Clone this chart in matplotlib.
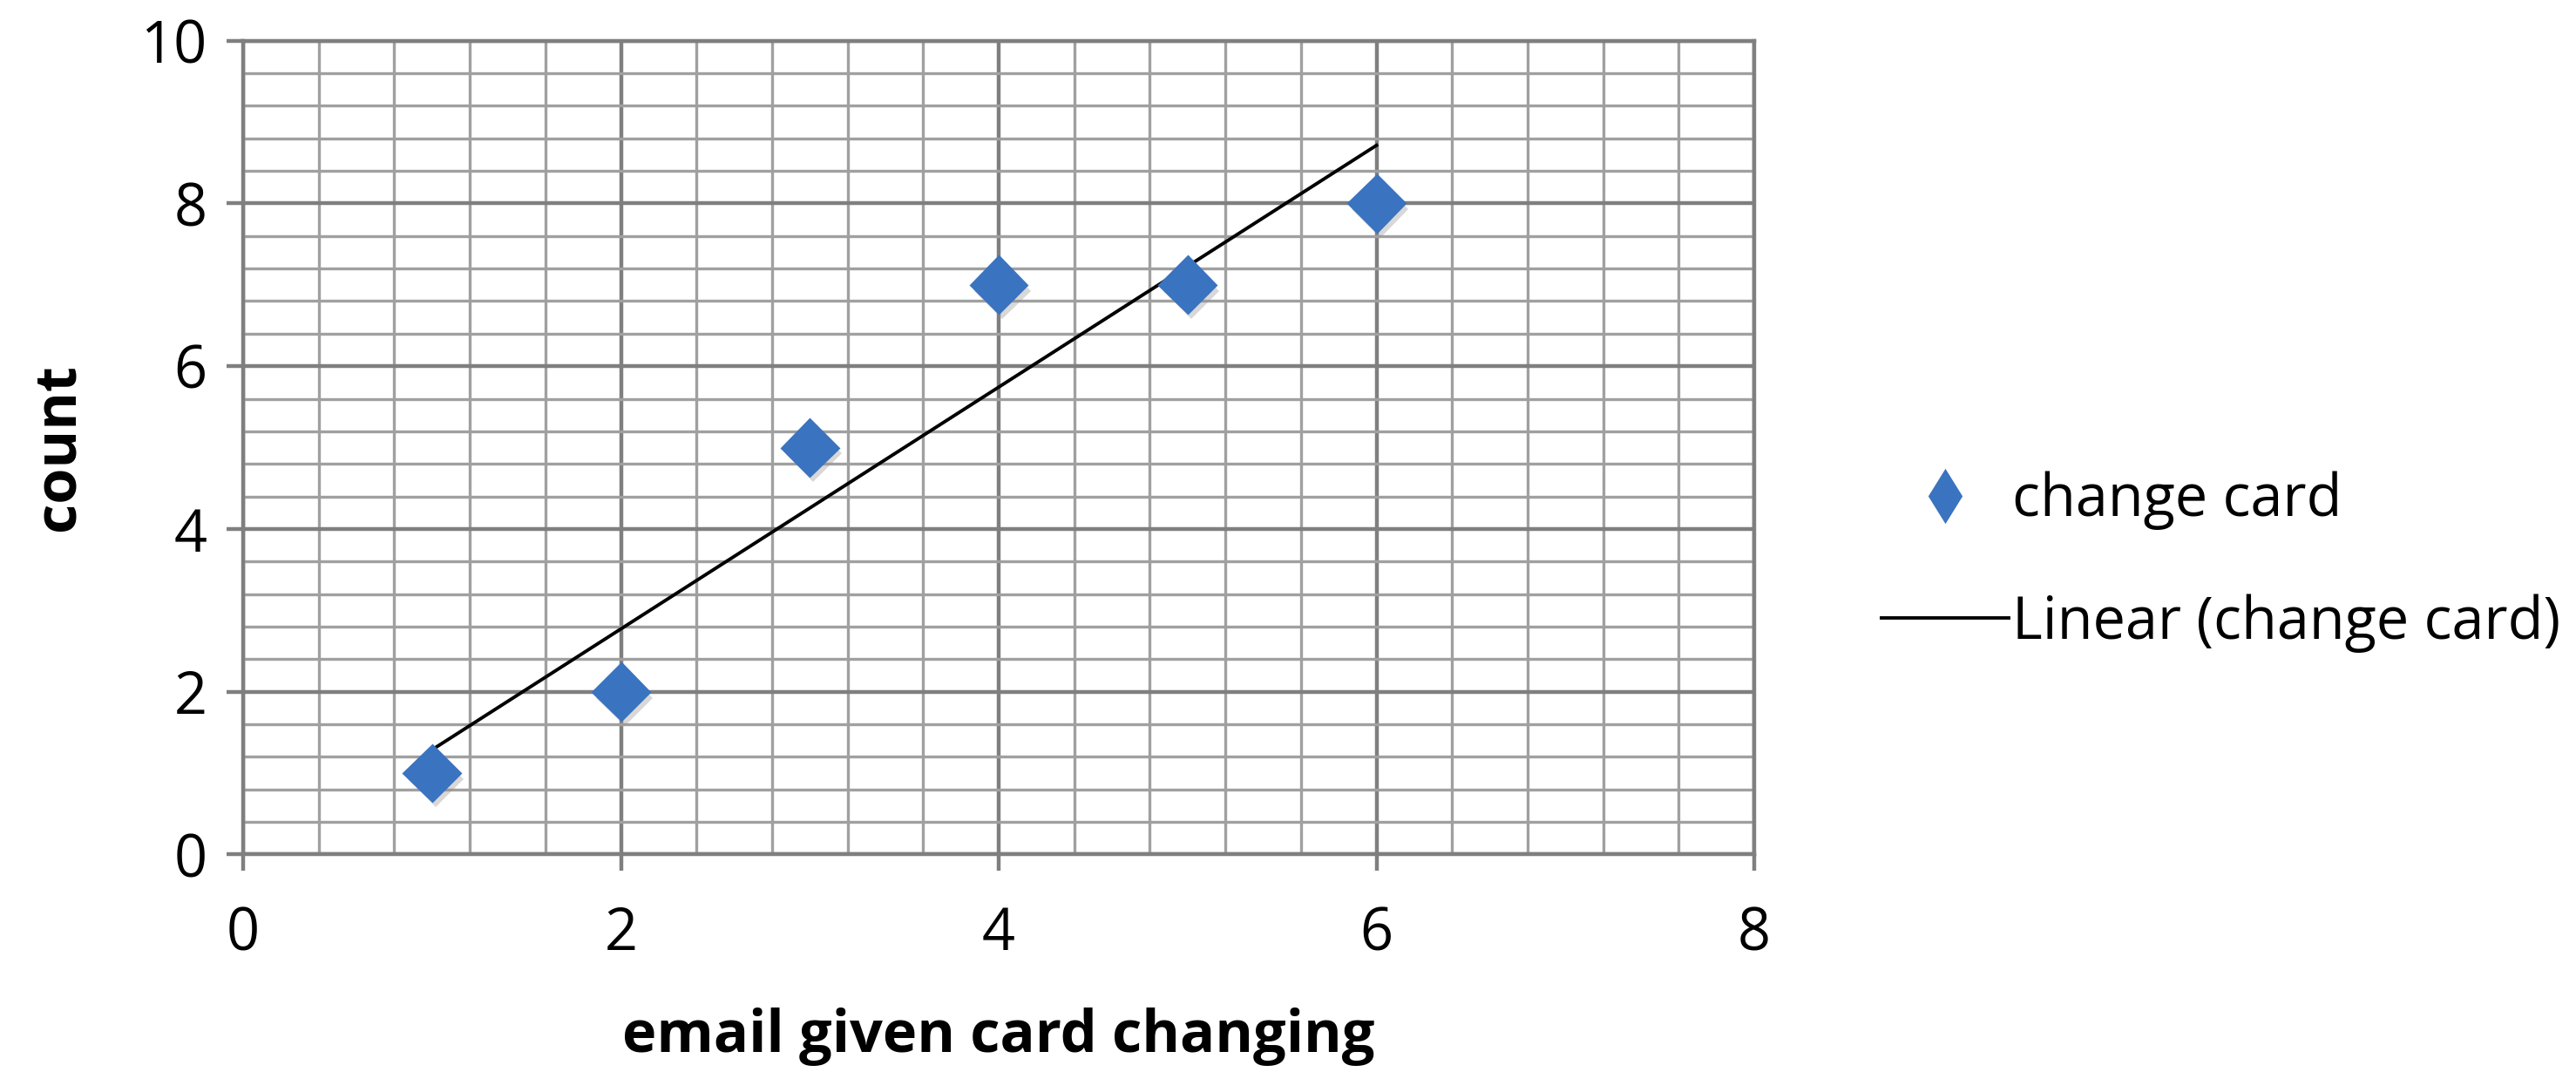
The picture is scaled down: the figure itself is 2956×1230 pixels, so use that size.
import matplotlib.pyplot as plt
import matplotlib.patheffects as pe
from matplotlib.lines import Line2D
from matplotlib.ticker import MultipleLocator
import numpy as np

# data
email_given = [1, 2, 3, 4, 5, 6]
change_card = [1, 2, 5, 7, 7, 8]

x_ticks = [0, 2, 4, 6, 8]
y_ticks = [0, 2, 4, 6, 8, 10]

plt.rcParams['font.family'] = ['Open Sans', 'DejaVu Sans']

BLUE = '#3a73bf'
MAJOR_GREY = '#7f7f7f'
MINOR_GREY = '#a0a0a0'

fig = plt.figure(figsize=(14.78, 6.15), dpi=200)
ax = fig.add_axes([0.0944, 0.203, 0.5866, 0.759])

ax.set_xlim(0, 8)
ax.set_ylim(0, 10)
ax.set_xticks(x_ticks)
ax.set_yticks(y_ticks)
ax.xaxis.set_minor_locator(MultipleLocator(0.4))
ax.yaxis.set_minor_locator(MultipleLocator(0.4))

ax.grid(True, which='major', color=MAJOR_GREY, linewidth=1.6)
ax.grid(True, which='minor', color=MINOR_GREY, linewidth=1.2)
ax.set_axisbelow(True)

for side in ['left', 'bottom', 'top', 'right']:
    ax.spines[side].set_color(MAJOR_GREY)
    ax.spines[side].set_linewidth(1.6)

ax.tick_params(which='major', direction='out', length=7, width=1.6,
               color=MAJOR_GREY, labelsize=24, pad=8)
ax.tick_params(axis='x', which='major', pad=14)
ax.tick_params(which='minor', length=0)
ax.tick_params(top=False, right=False)

# least squares trend line, drawn between the first and last point
slope, intercept = np.polyfit(email_given, change_card, 1)
fit_x = np.array([email_given[0], email_given[-1]])
ax.plot(fit_x, slope * fit_x + intercept, color='black', linewidth=1.4, zorder=3)

ax.plot(email_given, change_card, linestyle='none', marker='D', markersize=16.5,
        color=BLUE, markeredgecolor=BLUE, zorder=4,
        path_effects=[pe.SimplePatchShadow(offset=(1.5, -2.5), shadow_rgbFace='#909090',
                                           alpha=0.35), pe.Normal()])

ax.set_xlabel('email given card changing', fontsize=24, fontweight='bold', labelpad=18)
ax.set_ylabel('count', fontsize=24, fontweight='bold', labelpad=22)

handles = [
    Line2D([], [], linestyle='none', marker='d', markersize=15, color=BLUE,
           markeredgecolor=BLUE),
    Line2D([], [], color='black', linewidth=1.4),
]
fig.legend(handles, ['change card', 'Linear (change card)'],
           loc='center left', bbox_to_anchor=(0.71, 0.476),
           frameon=False, fontsize=24, handlelength=2.2, handletextpad=0.05,
           labelspacing=1.1)

fig.savefig('out.png', dpi=200)
